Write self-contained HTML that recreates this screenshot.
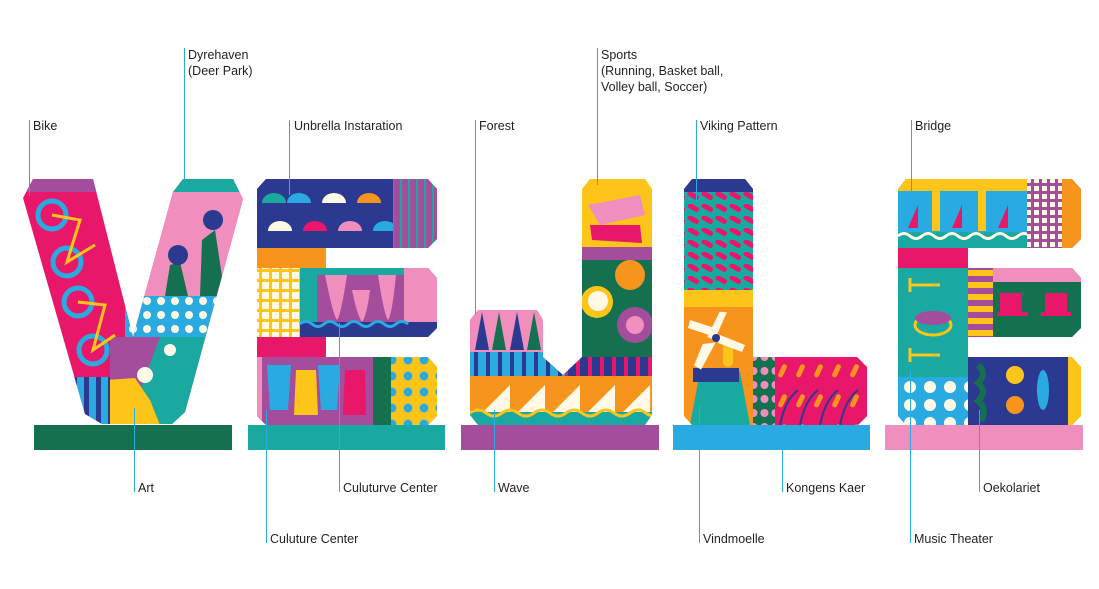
<!DOCTYPE html>
<html><head><meta charset="utf-8"><style>
html,body{margin:0;padding:0;background:#fff;}
svg{display:block;}
text{font-family:"Liberation Sans",sans-serif;font-size:12.5px;fill:#231f20;}
</style></head><body>
<svg width="1099" height="589" viewBox="0 0 1099 589" xmlns="http://www.w3.org/2000/svg">
<defs>
<pattern id="dotsB" width="14" height="14" patternUnits="userSpaceOnUse"><rect width="14" height="14" fill="#29abe2"/><circle cx="7" cy="7" r="4" fill="#fff9e6"/></pattern>
<pattern id="dotsY" width="16" height="16" patternUnits="userSpaceOnUse"><rect width="16" height="16" fill="#fdc41a"/><circle cx="8" cy="8" r="4.5" fill="#29abe2"/></pattern>
<pattern id="dotsP" width="11" height="14" patternUnits="userSpaceOnUse"><rect width="11" height="14" fill="#157050"/><circle cx="5.5" cy="7" r="4" fill="#f08fbd"/></pattern>
<pattern id="dotsC" width="20" height="18" patternUnits="userSpaceOnUse"><rect width="20" height="18" fill="#29abe2"/><circle cx="10" cy="9" r="6" fill="#fff9e6"/></pattern>
<pattern id="grid" width="10" height="10" patternUnits="userSpaceOnUse"><rect width="10" height="10" fill="#fdc41a"/><rect x="2" y="2" width="7" height="7" fill="#fff9e6"/></pattern>
<pattern id="gridP" width="8" height="8" patternUnits="userSpaceOnUse"><rect width="8" height="8" fill="#a44d9d"/><rect x="2" y="2" width="5" height="5" fill="#fff9e6"/></pattern>
<pattern id="strV" width="12" height="10" patternUnits="userSpaceOnUse"><rect width="12" height="10" fill="#29abe2"/><rect width="5" height="10" fill="#2b3990"/></pattern>
<pattern id="strJ" width="12" height="10" patternUnits="userSpaceOnUse"><rect width="12" height="10" fill="#2b3990"/><rect width="4" height="10" fill="#e8176a"/></pattern>
<pattern id="strJL" width="12" height="10" patternUnits="userSpaceOnUse"><rect width="12" height="10" fill="#29abe2"/><rect x="6" width="4" height="10" fill="#2b3990"/></pattern>
<pattern id="strP" width="8" height="10" patternUnits="userSpaceOnUse"><rect width="8" height="10" fill="#a44d9d"/><rect width="2" height="10" fill="#1aa9a0"/></pattern>
<pattern id="strH" width="10" height="12" patternUnits="userSpaceOnUse"><rect width="10" height="12" fill="#fdc41a"/><rect width="10" height="6" fill="#a44d9d"/></pattern>
<pattern id="braid" width="14" height="12" patternUnits="userSpaceOnUse"><rect width="14" height="12" fill="#1aa9a0"/><rect x="1" y="1" width="12" height="5" rx="2" fill="#e8176a" transform="rotate(30 7 4)"/></pattern>
<pattern id="catt" width="18" height="30" patternUnits="userSpaceOnUse"><rect width="18" height="30" fill="#e8176a"/><rect x="6" y="4" width="5" height="14" rx="2.5" fill="#f7941d" transform="rotate(25 9 11)"/></pattern>
<clipPath id="cV"><polygon points="23,198 33,179 93,179 133,337 173,192 183,179 233,179 243,199 185,412 172,424 102,424 85,414"/></clipPath>
<clipPath id="cE1"><polygon points="257,189 266,179 428,179 437,189 437,239 428,248 326,248 326,268 428,268 437,278 437,328 428,337 326,337 326,357 428,357 437,367 437,416 428,425 266,425 257,416"/></clipPath>
<clipPath id="cJ"><polygon points="470,320 478,310 537,310 543,320 543,357 563,375 582,357 582,189 590,179 645,179 652,189 652,415 645,425 478,425 470,415"/></clipPath>
<clipPath id="cL"><polygon points="684,189 692,179 745,179 753,189 753,357 857,357 867,367 867,416 858,425 692,425 684,416"/></clipPath>
<clipPath id="cE2"><polygon points="898,189 906,179 1072,179 1081,189 1081,239 1072,248 968,248 968,268 1072,268 1081,278 1081,328 1072,337 968,337 968,357 1072,357 1081,367 1081,416 1072,425 906,425 898,416"/></clipPath>
</defs>

<!-- bases -->
<rect x="34" y="425" width="198" height="25" fill="#157050"/>
<rect x="248" y="425" width="197" height="25" fill="#1aa9a0"/>
<rect x="461" y="425" width="198" height="25" fill="#a44d9d"/>
<rect x="673" y="425" width="197" height="25" fill="#29abe2"/>
<rect x="885" y="425" width="198" height="25" fill="#f08fbd"/>

<!-- V -->
<g clip-path="url(#cV)">
<rect x="15" y="170" width="240" height="260" fill="#e8176a"/>
<rect x="15" y="170" width="110" height="22" fill="#a44d9d"/>
<rect x="130" y="170" width="125" height="22" fill="#1aa9a0"/>
<rect x="130" y="192" width="125" height="104" fill="#f08fbd"/>
<polygon points="165,296 170,265 180,262 188,296" fill="#157050"/>
<polygon points="200,296 202,240 215,230 225,296" fill="#157050"/>
<circle cx="178" cy="255" r="10" fill="#2b3990"/><circle cx="213" cy="220" r="10" fill="#2b3990"/>
<rect x="125" y="296" width="130" height="41" fill="url(#dotsB)"/>
<rect x="110" y="337" width="145" height="90" fill="#a44d9d"/>
<polygon points="160,337 250,337 200,425 150,425 140,390" fill="#1aa9a0"/>
<polygon points="105,380 135,378 150,400 160,425 100,425" fill="#fdc41a"/>
<circle cx="145" cy="375" r="8" fill="#fff9e6"/><circle cx="170" cy="350" r="6" fill="#fff9e6"/>
<rect x="15" y="377" width="95" height="50" fill="url(#strV)"/>
<g fill="none" stroke="#29abe2" stroke-width="5"><circle cx="52" cy="215" r="14"/><circle cx="67" cy="262" r="14"/><circle cx="78" cy="302" r="14"/><circle cx="93" cy="350" r="14"/></g>
<g fill="none" stroke="#fdc41a" stroke-width="3"><polyline points="52,215 80,220 67,262 95,245"/><polyline points="78,302 105,305 93,350 115,335"/></g>
</g>

<!-- E1 -->
<g clip-path="url(#cE1)">
<rect x="250" y="170" width="195" height="260" fill="#a44d9d"/>
<rect x="250" y="170" width="143" height="78" fill="#2b3990"/>
<g><path d="M262,203 a12,10 0 0 1 24,0z" fill="#1aa9a0"/><path d="M287,203 a12,10 0 0 1 24,0z" fill="#29abe2"/><path d="M322,203 a12,10 0 0 1 24,0z" fill="#fff9e6"/><path d="M357,203 a12,10 0 0 1 24,0z" fill="#f7941d"/>
<path d="M268,231 a12,10 0 0 1 24,0z" fill="#fff9e6"/><path d="M303,231 a12,10 0 0 1 24,0z" fill="#e8176a"/><path d="M338,231 a12,10 0 0 1 24,0z" fill="#f08fbd"/><path d="M373,231 a12,10 0 0 1 24,0z" fill="#29abe2"/></g>
<rect x="393" y="179" width="50" height="69" fill="url(#strP)"/>
<rect x="250" y="248" width="76" height="20" fill="#f7941d"/>
<rect x="250" y="268" width="50" height="69" fill="url(#grid)"/>
<rect x="300" y="268" width="145" height="69" fill="#1aa9a0"/>
<rect x="317" y="275" width="88" height="50" fill="#a44d9d"/>
<g fill="#f08fbd"><path d="M325,275 q8,40 12,45 q4,-5 10,-45z"/><path d="M352,290 q5,25 10,32 q5,-7 8,-32z"/><path d="M378,275 q6,40 10,45 q4,-5 8,-45z"/></g>
<rect x="404" y="268" width="41" height="69" fill="#f08fbd"/>
<rect x="300" y="322" width="145" height="15" fill="#2b3990"/>
<path d="M300,324 q6,-5 12,0 t12,0 t12,0 t12,0 t12,0 t12,0 t12,0 t12,0 t12,0" stroke="#29abe2" stroke-width="3" fill="none"/>
<rect x="250" y="337" width="76" height="20" fill="#e8176a"/>
<rect x="250" y="357" width="123" height="70" fill="#a44d9d"/>
<rect x="250" y="357" width="12" height="68" fill="#f08fbd"/>
<polygon points="267,365 291,365 288,410 270,410" fill="#29abe2"/>
<polygon points="296,370 316,370 318,415 294,415" fill="#fdc41a"/>
<polygon points="318,365 340,365 337,410 321,410" fill="#29abe2"/>
<polygon points="345,370 365,370 366,415 343,415" fill="#e8176a"/>
<rect x="373" y="357" width="18" height="70" fill="#157050"/>
<rect x="391" y="357" width="54" height="70" fill="url(#dotsY)"/>
</g>

<!-- J -->
<g clip-path="url(#cJ)">
<rect x="460" y="170" width="200" height="260" fill="#f7941d"/>
<rect x="582" y="179" width="72" height="68" fill="#fdc41a"/>
<polygon points="588,205 640,195 645,215 600,225" fill="#f08fbd"/><polygon points="590,225 640,225 642,243 592,240" fill="#e8176a"/>
<rect x="582" y="247" width="72" height="13" fill="#a44d9d"/>
<rect x="582" y="260" width="72" height="97" fill="#157050"/>
<circle cx="630" cy="275" r="15" fill="#f7941d"/><circle cx="597" cy="302" r="16" fill="#fdc41a"/><circle cx="598" cy="301" r="10" fill="#fff9e6"/><circle cx="635" cy="325" r="18" fill="#a44d9d"/><circle cx="635" cy="325" r="9" fill="#f08fbd"/>
<rect x="560" y="357" width="94" height="19" fill="url(#strJ)"/>
<rect x="465" y="310" width="80" height="42" fill="#f08fbd"/>
<polygon points="475,350 482,312 489,350" fill="#2b3990"/><polygon points="492,350 499,312 506,350" fill="#157050"/><polygon points="510,350 517,312 524,350" fill="#2b3990"/><polygon points="527,350 534,312 541,350" fill="#157050"/>
<rect x="465" y="352" width="100" height="24" fill="url(#strJL)"/>
<g fill="#fff9e6"><polygon points="475,420 510,385 510,420"/><polygon points="510,420 545,385 545,420"/><polygon points="545,420 580,385 580,420"/><polygon points="580,420 615,385 615,420"/><polygon points="615,420 650,385 650,420"/></g>
<rect x="465" y="412" width="190" height="15" fill="#1aa9a0"/>
<path d="M470,413 q8,-6 16,0 t16,0 t16,0 t16,0 t16,0 t16,0 t16,0 t16,0 t16,0 t16,0 t16,0 t16,0" stroke="#fdc41a" stroke-width="3" fill="none"/>
</g>

<!-- L -->
<g clip-path="url(#cL)">
<rect x="680" y="170" width="200" height="260" fill="#f7941d"/>
<rect x="684" y="179" width="70" height="13" fill="#2b3990"/>
<rect x="684" y="192" width="70" height="98" fill="url(#braid)"/>
<rect x="684" y="290" width="70" height="17" fill="#fdc41a"/>
<polygon points="690,425 700,372 740,372 750,425" fill="#1aa9a0"/>
<rect x="693" y="368" width="46" height="14" fill="#2b3990"/>
<rect x="723" y="342" width="10" height="25" rx="5" fill="#fdc41a"/>
<g fill="#fff9e6"><polygon points="715,312 722,310 720,340 712,340" transform="rotate(20 718 325)"/><polygon points="690,320 715,328 712,336 688,328"/><polygon points="720,335 745,345 742,352 718,343"/><polygon points="700,345 712,340 705,370 697,368" transform="rotate(15 705 355)"/></g>
<circle cx="716" cy="338" r="4" fill="#2b3990"/>
<rect x="753" y="357" width="22" height="70" fill="url(#dotsP)"/>
<rect x="775" y="357" width="95" height="70" fill="url(#catt)"/>
<g stroke="#2b3990" stroke-width="2" fill="none"><path d="M780,425 q5,-25 18,-35"/><path d="M800,425 q5,-25 18,-35"/><path d="M820,425 q5,-25 18,-35"/><path d="M840,425 q5,-25 18,-35"/></g>
</g>

<!-- E2 -->
<g clip-path="url(#cE2)">
<rect x="890" y="170" width="195" height="260" fill="#1aa9a0"/>
<rect x="898" y="179" width="129" height="69" fill="#29abe2"/>
<rect x="898" y="179" width="129" height="12" fill="#fdc41a"/>
<rect x="932" y="191" width="8" height="40" fill="#fdc41a"/><rect x="978" y="191" width="8" height="40" fill="#fdc41a"/>
<g fill="#e8176a"><polygon points="908,228 918,205 918,228"/><polygon points="952,228 962,205 962,228"/><polygon points="998,228 1008,205 1008,228"/></g>
<rect x="898" y="232" width="129" height="16" fill="#1aa9a0"/>
<path d="M898,236 q6,-5 12,0 t12,0 t12,0 t12,0 t12,0 t12,0 t12,0 t12,0 t12,0 t12,0 t12,0" stroke="#fff9e6" stroke-width="3" fill="none"/>
<rect x="1027" y="179" width="35" height="69" fill="url(#gridP)"/>
<rect x="1062" y="179" width="22" height="69" fill="#f7941d"/>
<rect x="898" y="248" width="70" height="20" fill="#e8176a"/>
<g stroke="#fdc41a" stroke-width="3" fill="none"><path d="M910,285 l30,0 M910,278 l0,14"/><ellipse cx="933" cy="325" rx="18" ry="10"/><path d="M910,355 l30,0 M910,348 l0,14"/></g>
<ellipse cx="933" cy="318" rx="18" ry="7" fill="#a44d9d"/>
<rect x="968" y="268" width="25" height="69" fill="url(#strH)"/>
<rect x="993" y="268" width="92" height="69" fill="#157050"/>
<rect x="993" y="268" width="92" height="14" fill="#f08fbd"/>
<g fill="#e8176a"><rect x="1000" y="293" width="22" height="22"/><rect x="998" y="312" width="30" height="4"/><rect x="1045" y="293" width="22" height="22"/><rect x="1041" y="312" width="30" height="4"/></g>
<rect x="898" y="377" width="70" height="50" fill="url(#dotsC)"/>
<rect x="968" y="357" width="100" height="70" fill="#2b3990"/>
<rect x="1068" y="357" width="17" height="70" fill="#fdc41a"/>
<path d="M978,365 q10,8 0,18 q10,8 0,18 q10,8 3,20" stroke="#157050" stroke-width="6" fill="none"/>
<circle cx="1015" cy="375" r="9" fill="#fdc41a"/><circle cx="1015" cy="405" r="9" fill="#f7941d"/>
<ellipse cx="1043" cy="390" rx="6" ry="20" fill="#29abe2"/>
</g>

<!-- leader lines -->
<g stroke="#29abe2" stroke-width="1">
<line x1="29.5" y1="120" x2="29.5" y2="196"/>
<line x1="184.5" y1="48" x2="184.5" y2="180"/>
<line x1="289.5" y1="120" x2="289.5" y2="195"/>
<line x1="475.5" y1="120" x2="475.5" y2="315"/>
<line x1="597.5" y1="48" x2="597.5" y2="185"/>
<line x1="696.5" y1="120" x2="696.5" y2="202"/>
<line x1="911.5" y1="120" x2="911.5" y2="196"/>
<line x1="134.5" y1="408" x2="134.5" y2="492"/>
<line x1="339.5" y1="323" x2="339.5" y2="492"/>
<line x1="494.5" y1="410" x2="494.5" y2="492"/>
<line x1="782.5" y1="450" x2="782.5" y2="492"/>
<line x1="979.5" y1="410" x2="979.5" y2="492"/>
<line x1="266.5" y1="410" x2="266.5" y2="543"/>
<line x1="699.5" y1="405" x2="699.5" y2="543"/>
<line x1="910.5" y1="370" x2="910.5" y2="543"/>
</g>

<!-- labels -->
<text x="33" y="130">Bike</text>
<text x="188" y="59">Dyrehaven</text>
<text x="188" y="75">(Deer Park)</text>
<text x="294" y="130">Unbrella Instaration</text>
<text x="479" y="130">Forest</text>
<text x="601" y="59">Sports</text>
<text x="601" y="75">(Running, Basket ball,</text>
<text x="601" y="91">Volley ball, Soccer)</text>
<text x="700" y="130">Viking Pattern</text>
<text x="915" y="130">Bridge</text>
<text x="138" y="492">Art</text>
<text x="343" y="492">Culuturve Center</text>
<text x="498" y="492">Wave</text>
<text x="786" y="492">Kongens Kaer</text>
<text x="983" y="492">Oekolariet</text>
<text x="270" y="543">Culuture Center</text>
<text x="703" y="543">Vindmoelle</text>
<text x="914" y="543">Music Theater</text>
</svg>
</body></html>
